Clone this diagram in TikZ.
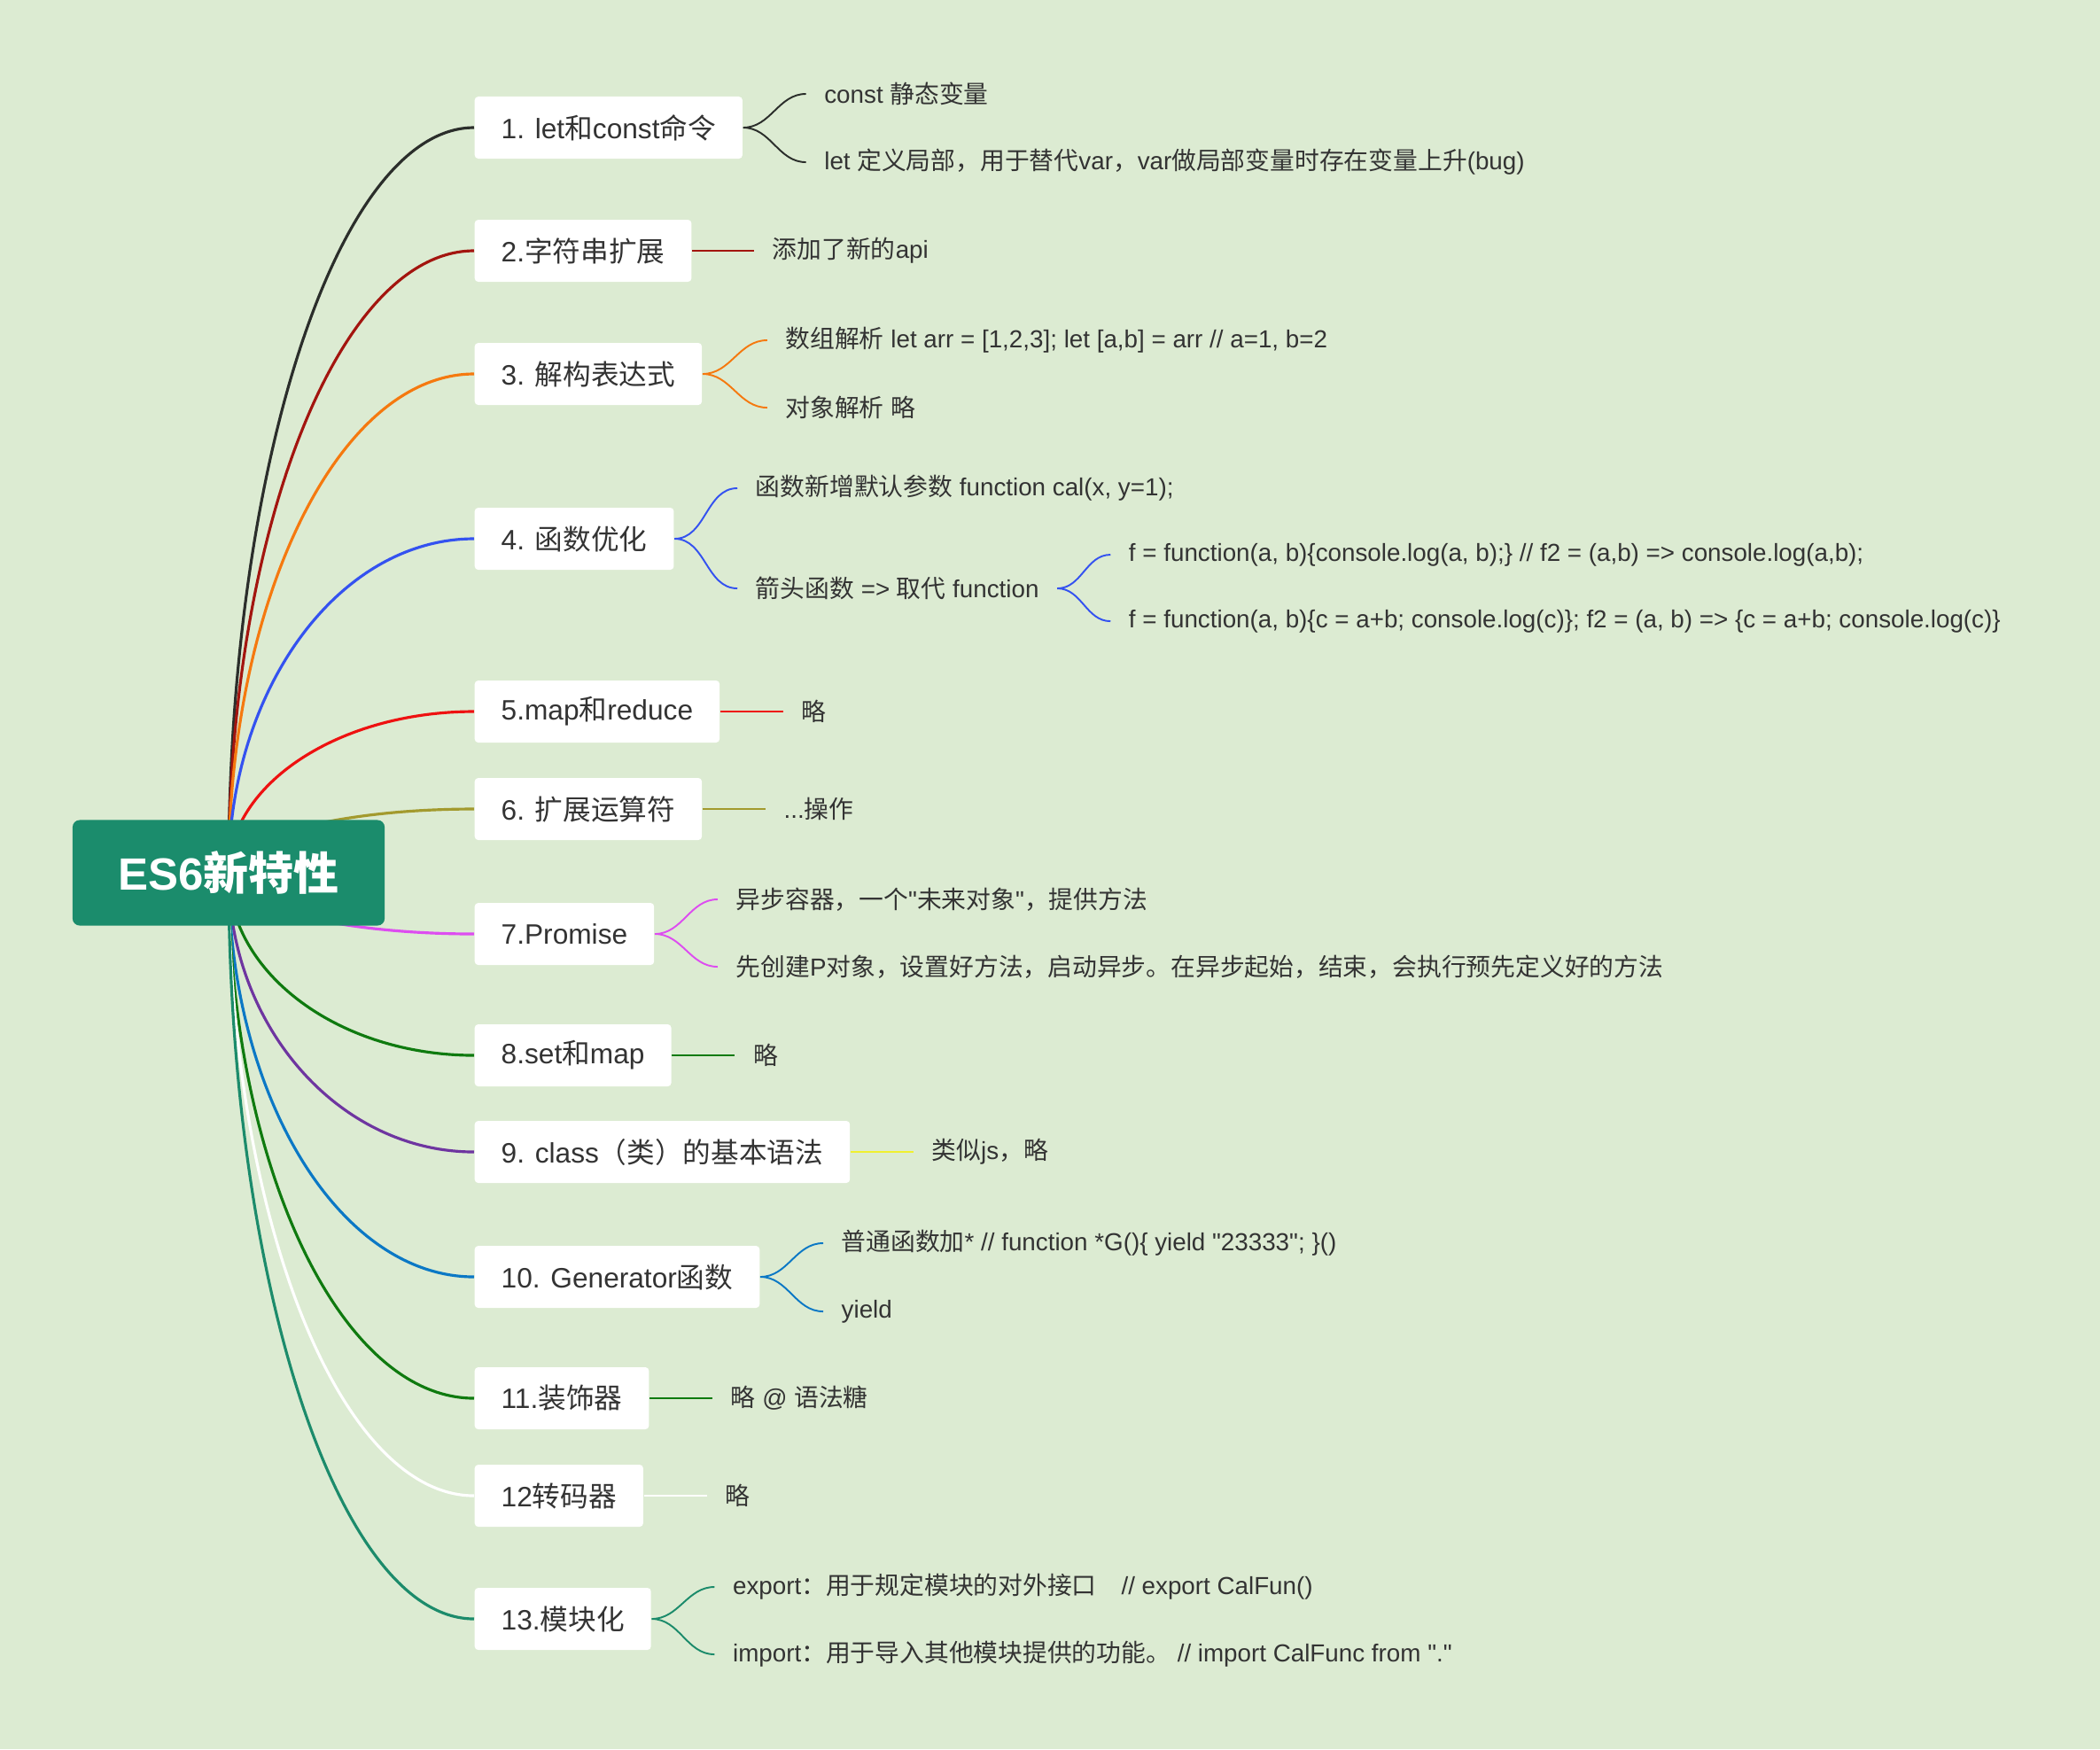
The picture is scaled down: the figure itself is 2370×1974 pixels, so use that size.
\documentclass[tikz,border=0pt]{standalone}
\usepackage{fontspec}
\setmainfont{Liberation Sans}[Ligatures=TeXOff]
\newfontfamily\cjkfont{Noto Sans CJK SC}
\usetikzlibrary{calc,positioning}
% Chinese characters and punctuation are set in the CJK font
\XeTeXinterchartokenstate=1
\newXeTeXintercharclass\cjkclass
\newcount\cjkcode
\def\setcjkrange#1#2{\cjkcode=#1 \loop\XeTeXcharclass\cjkcode=\cjkclass\ifnum\cjkcode<#2 \advance\cjkcode by 1 \repeat}
\setcjkrange{"3000}{"303F}
\setcjkrange{"4E00}{"9FFF}
\setcjkrange{"FF00}{"FFEF}
\XeTeXinterchartoks 0 \cjkclass = {\cjkfont}
\XeTeXinterchartoks 4095 \cjkclass = {\cjkfont}
\XeTeXinterchartoks \cjkclass 0 = {\rmfamily}
\XeTeXinterchartoks \cjkclass 4095 = {\rmfamily}
\definecolor{bgcol}{HTML}{DCEBD2}
\definecolor{rootcol}{HTML}{1B8C6C}
\definecolor{txt}{HTML}{333333}
\definecolor{col1}{HTML}{2B2E2B}
\definecolor{col2}{HTML}{A3150F}
\definecolor{col3}{HTML}{F5790F}
\definecolor{col4}{HTML}{3452F0}
\definecolor{col5}{HTML}{EE1111}
\definecolor{col6}{HTML}{A39A2E}
\definecolor{col7}{HTML}{DD4DF0}
\definecolor{col8}{HTML}{0F7A0F}
\definecolor{col9}{HTML}{6E35A0}
\definecolor{col9b}{HTML}{F0F030}
\definecolor{col10}{HTML}{0B78C5}
\definecolor{col13}{HTML}{1C8B6B}
\pgfdeclarelayer{bg}
\pgfsetlayers{bg,main}
\begin{document}
\begin{tikzpicture}[x=0.01cm,y=-0.01cm,
root/.style={fill=rootcol,rounded corners=0.08cm,text=white,font=\fontsize{14.5pt}{17pt}\selectfont\bfseries,minimum width=3.52cm,minimum height=1.19cm},
topic/.style={fill=white,rounded corners=0.04cm,text=txt,font=\fontsize{9pt}{11pt}\selectfont,minimum height=0.7cm,inner xsep=0.3cm,anchor=west},
leaf/.style={text=txt,font=\fontsize{7.9pt}{9.5pt}\selectfont,inner xsep=0.2cm,inner ysep=0.05cm},
branch/.style={line width=0.9pt},
twig/.style={line width=0.55pt},
curve/.style={to path={.. controls ($(\tikztostart)!0.55!(\tikztostart|-\tikztotarget)$) and ($(\tikztotarget)!0.55!(\tikztostart|-\tikztotarget)$) .. (\tikztotarget)}}]
\useasboundingbox (0,0) rectangle (2370,1974);
\node[root] (R) at (258,985) {ES6新特性};
\node[topic] (b1) at (535,144) {1. let和const命令};
\node[topic] (b2) at (535,283) {2.字符串扩展};
\node[topic] (b3) at (535,422) {3. 解构表达式};
\node[topic] (b4) at (535,608) {4. 函数优化};
\node[topic] (b5) at (535,803) {5.map和reduce};
\node[topic] (b6) at (535,913) {6. 扩展运算符};
\node[topic] (b7) at (535,1054) {7.Promise};
\node[topic] (b8) at (535,1191) {8.set和map};
\node[topic] (b9) at (535,1300) {9. class（类）的基本语法};
\node[topic] (b10) at (535,1441) {10. Generator函数};
\node[topic] (b11) at (535,1578) {11.装饰器};
\node[topic] (b12) at (535,1688) {12转码器};
\node[topic] (b13) at (535,1827) {13.模块化};
% leaves
\node[leaf,above right=0.38cm and 0.71cm of b1.east,anchor=west] (l1a) {const 静态变量};
\node[leaf,below right=0.39cm and 0.71cm of b1.east,anchor=west] (l1b) {let 定义局部，用于替代var，var做局部变量时存在变量上升(bug)};
\node[leaf,right=0.7cm of b2] (l2) {添加了新的api};
\node[leaf,above right=0.38cm and 0.73cm of b3.east,anchor=west] (l3a) {数组解析 let arr = [1,2,3]; let [a,b] = arr // a=1, b=2};
\node[leaf,below right=0.38cm and 0.73cm of b3.east,anchor=west] (l3b) {对象解析 略};
\node[leaf,above right=0.57cm and 0.71cm of b4.east,anchor=west] (l4a) {函数新增默认参数 function cal(x, y=1);};
\node[leaf,below right=0.56cm and 0.71cm of b4.east,anchor=west] (l4b) {箭头函数 => 取代 function};
\node[leaf,above right=0.38cm and 0.6cm of l4b.east,anchor=west] (l4c) {f = function(a, b)\{console.log(a, b);\} // f2 = (a,b) => console.log(a,b);};
\node[leaf,below right=0.37cm and 0.6cm of l4b.east,anchor=west] (l4d) {f = function(a, b)\{c = a+b; console.log(c)\}; f2 = (a, b) => \{c = a+b; console.log(c)\}};
\node[leaf,right=0.71cm of b5] (l5) {略};
\node[leaf,right=0.71cm of b6] (l6) {...操作};
\node[leaf,above right=0.39cm and 0.71cm of b7.east,anchor=west] (l7a) {异步容器，一个"未来对象"，提供方法};
\node[leaf,below right=0.37cm and 0.71cm of b7.east,anchor=west] (l7b) {先创建P对象，设置好方法，启动异步。在异步起始，结束，会执行预先定义好的方法};
\node[leaf,right=0.71cm of b8] (l8) {略};
\node[leaf,right=0.71cm of b9] (l9) {类似js，略};
\node[leaf,above right=0.38cm and 0.71cm of b10.east,anchor=west] (l10a) {普通函数加* // function *G()\{ yield "23333"; \}()};
\node[leaf,below right=0.39cm and 0.71cm of b10.east,anchor=west] (l10b) {yield};
\node[leaf,right=0.71cm of b11] (l11) {略 @ 语法糖};
\node[leaf,right=0.71cm of b12] (l12) {略};
\node[leaf,above right=0.36cm and 0.71cm of b13.east,anchor=west] (l13a) {export：用于规定模块的对外接口\quad // export CalFun()};
\node[leaf,below right=0.4cm and 0.71cm of b13.east,anchor=west] (l13b) {import：用于导入其他模块提供的功能。 // import CalFunc from "."};
% main branches, behind the boxes
\begin{pgfonlayer}{bg}
\fill[bgcol] (0,0) rectangle (2370,1974);
\draw[branch,col1] (R.center) to[curve] (b1.west);
\draw[branch,col2] (R.center) to[curve] (b2.west);
\draw[branch,col3] (R.center) to[curve] (b3.west);
\draw[branch,col4] (R.center) to[curve] (b4.west);
\draw[branch,col5] (R.center) to[curve] (b5.west);
\draw[branch,col6] (R.center) to[curve] (b6.west);
\draw[branch,col7] (R.center) to[curve] (b7.west);
\draw[branch,col8] (R.center) to[curve] (b8.west);
\draw[branch,col9] (R.center) to[curve] (b9.west);
\draw[branch,col10] (R.center) to[curve] (b10.west);
\draw[branch,col8] (R.center) to[curve] (b11.west);
\draw[branch,white] (R.center) to[curve] (b12.west);
\draw[branch,col13] (R.center) to[curve] (b13.west);
\end{pgfonlayer}
% twigs to the leaves
\draw[twig,col1] (l1a.west) to[out=180,in=0] (b1.east) to[out=0,in=180] (l1b.west);
\draw[twig,col2] (b2) -- (l2);
\draw[twig,col3] (l3a.west) to[out=180,in=0] (b3.east) to[out=0,in=180] (l3b.west);
\draw[twig,col4] (l4a.west) to[out=180,in=0] (b4.east) to[out=0,in=180] (l4b.west);
\draw[twig,col4] (l4c.west) to[out=180,in=0] (l4b.east) to[out=0,in=180] (l4d.west);
\draw[twig,col5] (b5) -- (l5);
\draw[twig,col6] (b6) -- (l6);
\draw[twig,col7] (l7a.west) to[out=180,in=0] (b7.east) to[out=0,in=180] (l7b.west);
\draw[twig,col8] (b8) -- (l8);
\draw[twig,col9b] (b9) -- (l9);
\draw[twig,col10] (l10a.west) to[out=180,in=0] (b10.east) to[out=0,in=180] (l10b.west);
\draw[twig,col8] (b11) -- (l11);
\draw[twig,white] (b12) -- (l12);
\draw[twig,col13] (l13a.west) to[out=180,in=0] (b13.east) to[out=0,in=180] (l13b.west);
\end{tikzpicture}
\end{document}
